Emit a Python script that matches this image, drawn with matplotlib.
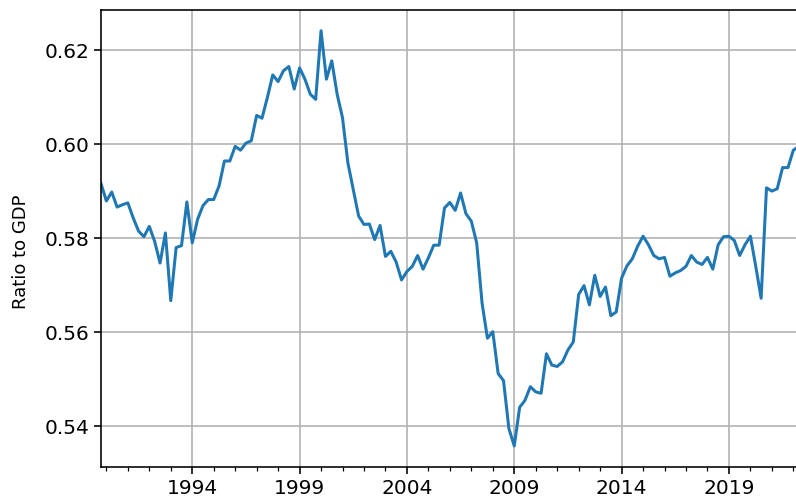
import numpy as np
import matplotlib
matplotlib.use("Agg")
import matplotlib.pyplot as plt
from matplotlib.ticker import FixedLocator, FormatStrFormatter

# quarterly series, 1989Q4 .. 2022Q2
start_year = 1989
start_quarter = 4
ratio = [
    0.5916, 0.5879, 0.5898, 0.5866, 0.5871, 0.5875, 0.5843, 0.5815, 0.5803, 0.5825,
    0.5793, 0.5747, 0.5811, 0.5667, 0.5780, 0.5784, 0.5877, 0.5790, 0.5840, 0.5869,
    0.5882, 0.5882, 0.5911, 0.5964, 0.5964, 0.5995, 0.5987, 0.6002, 0.6007, 0.6061,
    0.6055, 0.6099, 0.6147, 0.6133, 0.6156, 0.6165, 0.6117, 0.6162, 0.6138, 0.6106,
    0.6095, 0.6241, 0.6138, 0.6177, 0.6106, 0.6056, 0.5960, 0.5903, 0.5847, 0.5829,
    0.5830, 0.5797, 0.5827, 0.5761, 0.5772, 0.5749, 0.5711, 0.5729, 0.5740, 0.5763,
    0.5734, 0.5758, 0.5785, 0.5785, 0.5864, 0.5876, 0.5859, 0.5896, 0.5852, 0.5836,
    0.5790, 0.5662, 0.5587, 0.5601, 0.5512, 0.5497, 0.5395, 0.5358, 0.5440, 0.5455,
    0.5484, 0.5473, 0.5470, 0.5554, 0.5530, 0.5527, 0.5537, 0.5562, 0.5579, 0.5680,
    0.5699, 0.5658, 0.5721, 0.5676, 0.5696, 0.5635, 0.5643, 0.5715, 0.5741, 0.5756,
    0.5783, 0.5804, 0.5786, 0.5763, 0.5756, 0.5759, 0.5719, 0.5726, 0.5731, 0.5740,
    0.5763, 0.5749, 0.5744, 0.5759, 0.5734, 0.5786, 0.5803, 0.5804, 0.5795, 0.5763,
    0.5786, 0.5804, 0.5740, 0.5672, 0.5907, 0.5900, 0.5905, 0.5950, 0.5950, 0.5987,
    0.5995,
]
major_years = [1994, 1999, 2004, 2009, 2014, 2019]
minor_years = list(range(1990, 2023))
y_ticks = [0.54, 0.56, 0.58, 0.60, 0.62]

# quarter positions as fractional years
t = start_year + (start_quarter - 1) / 4 + np.arange(len(ratio)) / 4

s = 1.45  # overall scale of the original render
plt.rcParams.update({
    "font.size": 10 * s,
    "axes.linewidth": 0.8 * s,
    "xtick.major.size": 3.5 * s,
    "ytick.major.size": 3.5 * s,
    "xtick.minor.size": 2 * s,
    "xtick.major.width": 0.8 * s,
    "ytick.major.width": 0.8 * s,
    "xtick.minor.width": 0.6 * s,
    "grid.linewidth": 0.8 * s,
    "grid.color": "#b0b0b0",
})

fig = plt.figure(figsize=(7.96, 5.01), dpi=100)
ax = fig.add_axes([101 / 796, 1 - 466.7 / 501, (798.7 - 101) / 796, (466.7 - 10) / 501])
ax.plot(t, ratio, color="#1f77b4", linewidth=1.5 * s)

ax.set_xlim(t[0], t[-1])
ax.xaxis.set_major_locator(FixedLocator(major_years))
ax.xaxis.set_minor_locator(FixedLocator(minor_years))
ax.set_xticklabels([str(y) for y in major_years])
ax.yaxis.set_major_locator(FixedLocator(y_ticks))
ax.yaxis.set_major_formatter(FormatStrFormatter("%.2f"))
ax.grid(True, which="major")
ax.set_axisbelow(True)
ax.set_ylabel("Ratio to GDP", fontsize=13, y=0.47, labelpad=10)

fig.savefig("out.png", dpi=100)
